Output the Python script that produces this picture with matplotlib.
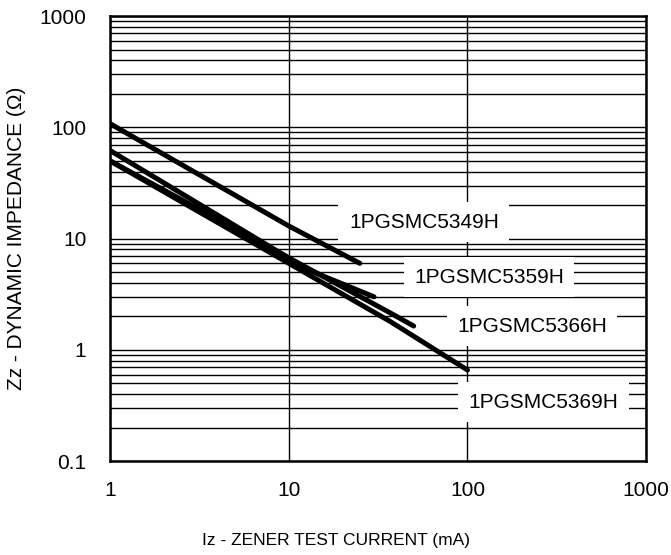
import matplotlib
matplotlib.use("Agg")
import matplotlib.pyplot as plt
from matplotlib.ticker import LogLocator, FixedLocator, NullFormatter

plt.rcParams["font.family"] = ["Liberation Sans", "DejaVu Sans"]

# values (Iz in mA, Zz in ohm)
iz_5349 = [1, 10, 25]
zz_5349 = [108, 13, 6.0]
iz_5359 = [1, 13, 30]
zz_5359 = [62, 5.2, 3.0]
iz_5366 = [1, 37, 50]
zz_5366 = [50, 2.15, 1.64]
iz_5369 = [1, 37, 100]
zz_5369 = [50, 1.8, 0.66]

x_ticks = [1, 10, 100, 1000]
x_tick_labels = ["1", "10", "100", "1000"]
y_ticks = [0.1, 1, 10, 100, 1000]
y_tick_labels = ["0.1", "1", "10", "100", "1000"]


def main():
    fig = plt.figure(figsize=(6.71, 5.55), dpi=100)
    ax = fig.add_axes([0.164, 0.169, 0.799, 0.802])
    ax.set_xscale("log")
    ax.set_yscale("log")
    ax.set_xlim(1, 1000)
    ax.set_ylim(0.1, 1000)

    # --- grid: every minor step on y, decades only on x ---
    ax.yaxis.set_minor_locator(LogLocator(base=10, subs=range(2, 10)))
    ax.yaxis.set_minor_formatter(NullFormatter())
    ax.xaxis.set_minor_locator(FixedLocator([]))
    ax.grid(True, axis="y", which="both", color="black", linewidth=1.0)
    ax.grid(True, axis="x", which="major", color="black", linewidth=1.0)
    ax.set_axisbelow(True)

    for s in ax.spines.values():
        s.set_linewidth(1.8)

    # --- curves ---
    for x, y in [(iz_5349, zz_5349), (iz_5359, zz_5359),
                 (iz_5366, zz_5366), (iz_5369, zz_5369)]:
        ax.plot(x, y, color="black", linewidth=3.6, solid_capstyle="round", zorder=3)

    # --- part labels on white boxes ---
    box = dict(boxstyle="square,pad=0.5", facecolor="white", edgecolor="none")
    for txt, px, py in [("1PGSMC5349H", 57, 14.1), ("1PGSMC5359H", 132, 4.5),
                        ("1PGSMC5366H", 230, 1.64), ("1PGSMC5369H", 266, 0.34)]:
        ax.text(px, py, txt, fontsize=15, ha="center", va="center", bbox=box, zorder=4)

    ax.set_xticks(x_ticks)
    ax.set_xticklabels(x_tick_labels)
    ax.set_yticks(y_ticks)
    ax.set_yticklabels(y_tick_labels)
    ax.tick_params(axis="both", which="both", length=0, labelsize=15)
    ax.tick_params(axis="x", pad=14)
    ax.tick_params(axis="y", pad=17)

    # x title sits centred on the whole figure, not the axes
    fig.text(0.5, 1 - 540 / 555, "Iz - ZENER TEST CURRENT (mA)", fontsize=12.5,
             ha="center", va="center")
    ax.set_ylabel("Zz - DYNAMIC IMPEDANCE (Ω)", fontsize=15, labelpad=10)

    fig.savefig("out.png", dpi=100)


if __name__ == "__main__":
    main()
